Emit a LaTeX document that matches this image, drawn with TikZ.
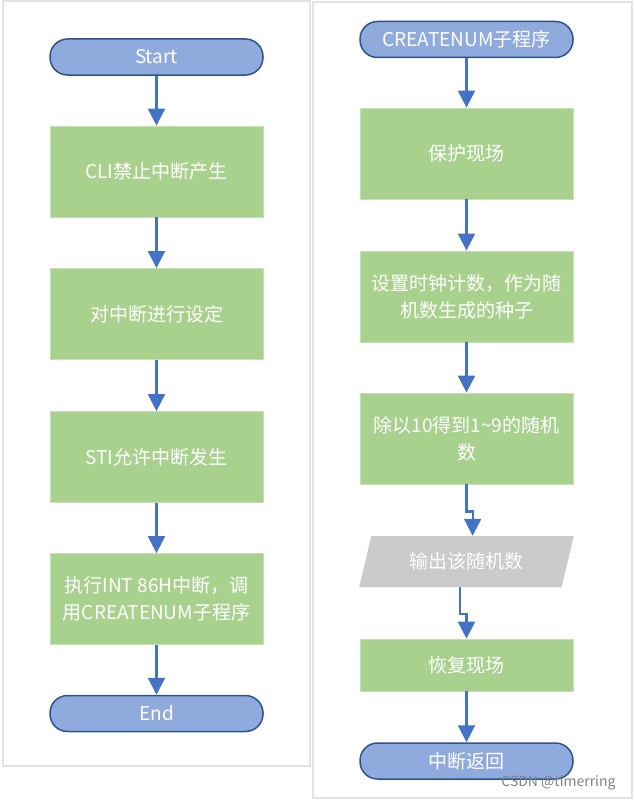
\documentclass[tikz,border=0pt]{standalone}
\usepackage{fontspec}
\setmainfont{Noto Sans CJK SC}
\usetikzlibrary{arrows.meta,shapes.geometric,positioning}

\definecolor{termblue}{HTML}{8FAADC}
\definecolor{termedge}{HTML}{2F528F}
\definecolor{procgreen}{HTML}{A9D18E}
\definecolor{procedge}{HTML}{C5E0B4}
\definecolor{iogray}{HTML}{CBCBCB}
\definecolor{flowblue}{HTML}{4472C4}
\definecolor{panelgray}{HTML}{E2E2E2}

\begin{document}
\begin{tikzpicture}[x=1pt, y=-1pt]
  \tikzstyle{terminal} = [draw=termedge, line width=1.5pt, fill=termblue, text=white, rounded corners=17.5pt, minimum width=213pt, minimum height=36pt, inner sep=0pt, font=\fontsize{19}{27}\selectfont]
  \tikzstyle{process} = [draw=procedge, line width=0.8pt, fill=procgreen, text=white, minimum width=213pt, minimum height=91pt, align=center, inner sep=0pt, font=\fontsize{19}{27}\selectfont]
  \tikzstyle{iobox} = [trapezium, trapezium left angle=67.6, trapezium right angle=112.4, trapezium stretches=true, fill=iogray, text=white, minimum width=215pt, minimum height=51pt, inner sep=0pt, font=\fontsize{19}{27}\selectfont]
  \tikzstyle{flow} = [draw=flowblue, line width=2.2pt, -{Triangle[width=17pt,length=17pt]}]
  \tikzstyle{panel} = [draw=panelgray, line width=1.5pt]

  \def\L{156.5};
  \def\R{466.5};

  \useasboundingbox (0,0) rectangle (634,800);

  % panels
  \draw[panel] (3,1) rectangle (310,766);
  \draw[panel] (313,2) rectangle (632,798);

  % main program
  \node[terminal] (start) at (\L, 57)    {Start};
  \node[process]  (l1)    at (\L, 171.5) {CLI禁止中断产生};
  \node[process]  (l2)    at (\L, 314)   {对中断进行设定};
  \node[process]  (l3)    at (\L, 457)   {STI允许中断发生};
  \node[process]  (l4)    at (\L, 599)   {执行INT 86H中断，调\\用CREATENUM子程序};
  \node[terminal] (end)   at (\L, 713.5) {End};

  % CREATENUM subroutine
  \node[terminal] (sub) at (\R, 39.5)  {CREATENUM子程序};
  \node[process]  (r1)  at (\R, 153.5) {保护现场};
  \node[process]  (r2)  at (\R, 296.5) {设置时钟计数，作为随\\机数生成的种子};
  \node[process]  (r3)  at (\R, 438.5) {除以10得到1\textasciitilde9的随机\\数};
  \node[iobox]    (out) at (\R, 561.5) {输出该随机数};
  \node[process, minimum height=52pt] (r4) at (\R, 665) {恢复现场};
  \node[terminal] (ret) at (\R, 761)   {中断返回};

  % connection lines
  \draw[flow] (start) -- (l1);
  \draw[flow] (l1) -- (l2);
  \draw[flow] (l2) -- (l3);
  \draw[flow] (l3) -- (l4);
  \draw[flow] (l4) -- (end);

  \draw[flow] (sub) -- (r1);
  \draw[flow] (r1) -- (r2);
  \draw[flow] (r2) -- (r3);
  \draw[flow] (r3.south) -- ++(0,27) -| (out.top side);
  \draw[flow] (out.bottom side) -- ++(0,27) -| (r4.north);
  \draw[flow] (r4) -- (ret);

  % watermark
  \node[anchor=east, text=gray, font=\fontsize{14}{14}\selectfont] (mark) at (619,783) {CSDN @timerring};
\end{tikzpicture}
\end{document}
